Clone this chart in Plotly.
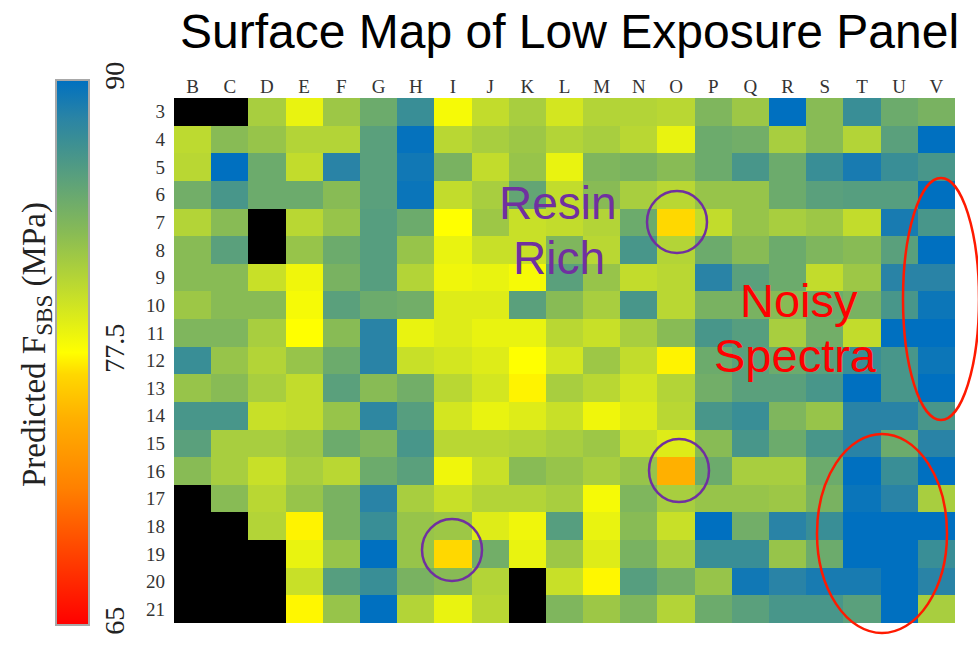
import plotly.graph_objects as go

# ---------------- data ----------------
columns = list("BCDEFGHIJKLMNOPQRSTUV")
rows = [str(r) for r in range(3, 22)]
N = None
row_03 = [N, N, 81.5, 78.5, 82.0, 84.5, 87.3, 77.9, 80.3, 81.5, 79.5, 81.0, 81.0, 80.7, 83.5, 82.0, 90.0, 83.0, 87.3, 84.5, 83.8]
row_04 = [80.5, 83.0, 82.3, 81.0, 81.0, 85.5, 89.8, 80.7, 81.5, 82.0, 81.0, 81.5, 80.7, 78.5, 84.5, 84.2, 81.5, 83.0, 81.0, 85.5, 90.0]
row_05 = [80.7, 90.0, 84.5, 80.3, 88.3, 85.5, 89.3, 83.8, 80.3, 82.3, 78.5, 83.5, 83.8, 83.0, 84.5, 86.5, 84.5, 87.3, 89.0, 87.3, 86.5]
row_06 = [84.2, 86.5, 84.5, 84.5, 83.0, 85.5, 89.6, 80.3, 81.5, 85.0, 80.3, 83.0, 81.5, 80.7, 82.3, 82.3, 84.5, 85.5, 85.7, 85.7, 90.0]
row_07 = [81.0, 83.0, N, 80.7, 82.3, 85.7, 84.5, 77.5, 82.0, 80.0, 80.3, 81.0, 84.5, 76.5, 80.3, 82.3, 81.5, 82.0, 80.3, 89.0, 86.5]
row_08 = [83.0, 85.5, N, 82.3, 84.5, 85.7, 82.3, 78.5, 80.0, 80.0, 83.5, 80.7, 86.5, 81.0, 84.5, 83.0, 84.5, 83.5, 83.0, 85.5, 90.0]
row_09 = [83.0, 83.0, 80.0, 78.2, 83.8, 85.7, 81.0, 78.2, 78.5, 77.9, 85.5, 82.3, 80.3, 80.7, 88.3, 85.5, 84.5, 80.3, 82.0, 88.3, 88.3]
row_10 = [82.0, 83.0, 83.0, 77.9, 85.5, 84.5, 84.2, 79.0, 79.0, 85.5, 83.0, 81.5, 86.5, 80.7, 83.8, 83.8, 83.0, 84.5, 83.8, 86.5, 89.5]
row_11 = [83.5, 83.5, 81.5, 77.5, 83.0, 88.3, 78.5, 79.0, 78.5, 78.5, 80.7, 80.0, 81.5, 83.0, 86.5, 85.7, 81.5, 84.2, 80.3, 90.0, 90.0]
row_12 = [87.3, 82.3, 81.0, 82.3, 84.5, 88.3, 80.0, 79.5, 79.0, 77.5, 79.5, 82.0, 80.3, 77.2, 84.5, 85.5, 84.5, 85.5, 87.3, 86.5, 89.5]
row_13 = [82.3, 83.0, 81.5, 80.3, 85.5, 83.0, 84.2, 80.7, 79.5, 77.2, 81.5, 80.7, 79.5, 81.0, 84.2, 85.5, 85.5, 86.5, 90.0, 86.5, 90.0]
row_14 = [86.5, 86.5, 80.0, 80.3, 82.3, 88.0, 85.7, 79.5, 78.5, 79.0, 80.0, 78.2, 79.0, 80.7, 86.5, 87.3, 83.5, 82.3, 88.3, 88.3, 86.5]
row_15 = [85.5, 81.5, 81.5, 82.0, 84.5, 83.5, 86.5, 80.7, 80.7, 81.0, 81.5, 82.0, 80.0, 79.0, 83.0, 86.5, 84.5, 86.5, 88.3, 84.5, 88.3]
row_16 = [83.0, 81.5, 80.0, 81.5, 80.7, 84.5, 85.5, 78.2, 80.0, 83.0, 82.3, 81.5, 82.3, 74.5, 84.5, 81.5, 81.5, 84.5, 90.0, 87.3, 90.0]
row_17 = [N, 83.0, 80.7, 82.3, 83.8, 88.3, 81.5, 80.0, 81.0, 81.0, 81.5, 77.9, 83.5, 81.5, 82.3, 82.3, 82.0, 83.8, 89.6, 88.3, 81.5]
row_18 = [N, N, 81.0, 77.2, 83.8, 87.3, 82.3, 82.0, 79.0, 78.2, 85.7, 78.5, 83.0, 80.0, 90.0, 84.2, 88.3, 87.3, 90.0, 90.0, 90.0]
row_19 = [N, N, N, 78.5, 82.3, 90.0, 82.3, 76.5, 84.2, 78.5, 82.0, 79.0, 83.8, 81.5, 87.3, 87.3, 82.3, 84.5, 90.0, 90.0, 87.3]
row_20 = [N, N, N, 80.0, 85.7, 87.3, 83.8, 83.0, 81.0, N, 80.0, 77.3, 85.7, 84.2, 82.3, 89.3, 88.3, 89.0, 89.0, 90.0, 88.3]
row_21 = [N, N, N, 77.3, 82.3, 90.0, 81.0, 78.5, 80.7, N, 83.5, 82.0, 83.5, 81.0, 84.5, 85.5, 86.5, 86.5, 85.5, 90.0, 81.5]
z_values = [row_03, row_04, row_05, row_06, row_07, row_08, row_09, row_10, row_11, row_12,
            row_13, row_14, row_15, row_16, row_17, row_18, row_19, row_20, row_21]
scale_min, scale_max = 65, 90
colorbar_ticks = [65, 77.5, 90]
colorbar_ticktext = ["65", "77.5", "90"]

# ---------------- styling ----------------
W, H = 978, 646
L, R, T, B = 174, 955, 98, 623

def px(x):
    return (x - L) / (R - L)

def py(y):
    return (B - y) / (B - T)

colorscale = [
    [0.00, "#ff0000"],
    [0.25, "#ff8000"],
    [0.38, "#ffb000"],
    [0.46, "#ffd800"],
    [0.50, "#ffff00"],
    [0.60, "#c8e028"],
    [0.72, "#88bb55"],
    [0.82, "#5aa07c"],
    [0.89, "#3a8e95"],
    [0.93, "#2a84a5"],
    [1.00, "#0070c0"],
]

fig = go.Figure(go.Heatmap(
    z=z_values, x=columns, y=rows,
    zmin=scale_min, zmax=scale_max,
    colorscale=colorscale,
    xgap=0, ygap=0,
    colorbar=dict(
        xref="paper", x=px(56), xanchor="left",
        yref="paper", y=py(80), yanchor="top",
        len=(625 - 80) / (B - T), lenmode="fraction",
        thickness=33, outlinewidth=2, outlinecolor="#a8a8a8",
        tickvals=colorbar_ticks, ticktext=colorbar_ticktext,
        tickangle=-90, ticks="",
        tickfont=dict(family="Liberation Serif", size=28, color="#222222"),
        xpad=0, ypad=0,
    ),
))

fig.update_layout(
    width=W, height=H,
    margin=dict(l=L, r=W - R, t=T, b=H - B, pad=0),
    paper_bgcolor="white",
    plot_bgcolor="black",
    showlegend=False,
)
fig.update_xaxes(side="top", type="category", categoryorder="array", categoryarray=columns,
                 showgrid=False, zeroline=False, ticks="", showline=False,
                 tickfont=dict(family="Liberation Serif", size=19, color="#333333"))
fig.update_yaxes(type="category", categoryorder="array", categoryarray=rows, autorange="reversed",
                 showgrid=False, zeroline=False, ticks="", showline=False, ticklabelstandoff=8,
                 tickfont=dict(family="Liberation Serif", size=19, color="#333333"))

annotations = [
    dict(text="Surface Map of Low Exposure Panel", x=px(569), y=py(31),
         font=dict(family="Liberation Sans", size=48, color="black")),
    dict(text="Predicted F<sub>SBS</sub> (MPa)", x=px(36), y=py(345), textangle=-90,
         font=dict(family="Liberation Serif", size=33, color="#222222")),
    dict(text="Resin", x=px(558), y=py(203),
         font=dict(family="Liberation Sans", size=46, color="#7030a0")),
    dict(text="Rich", x=px(559), y=py(258),
         font=dict(family="Liberation Sans", size=46, color="#7030a0")),
    dict(text="Noisy", x=px(799), y=py(300),
         font=dict(family="Liberation Sans", size=47, color="#ff0000")),
    dict(text="Spectra", x=px(795), y=py(355),
         font=dict(family="Liberation Sans", size=47, color="#ff0000")),
]
for a in annotations:
    a.update(xref="paper", yref="paper", showarrow=False, xanchor="center", yanchor="middle")
fig.update_layout(annotations=annotations)

def ellipse(x0, y0, x1, y1, color, width):
    return dict(type="circle", xref="paper", yref="paper",
                x0=px(x0), x1=px(x1), y0=py(y1), y1=py(y0),
                line=dict(color=color, width=width), fillcolor="rgba(0,0,0,0)", layer="above")

fig.update_layout(shapes=[
    ellipse(647, 191, 707, 253, "#7030a0", 2.5),
    ellipse(649, 439, 709, 502, "#7030a0", 2.5),
    ellipse(422, 519, 482, 581, "#7030a0", 2.5),
    ellipse(903, 178, 979, 420, "#ff1a00", 2.5),
    ellipse(817, 434, 947, 633, "#ff1a00", 2.5),
])

fig.write_html("out.html")
